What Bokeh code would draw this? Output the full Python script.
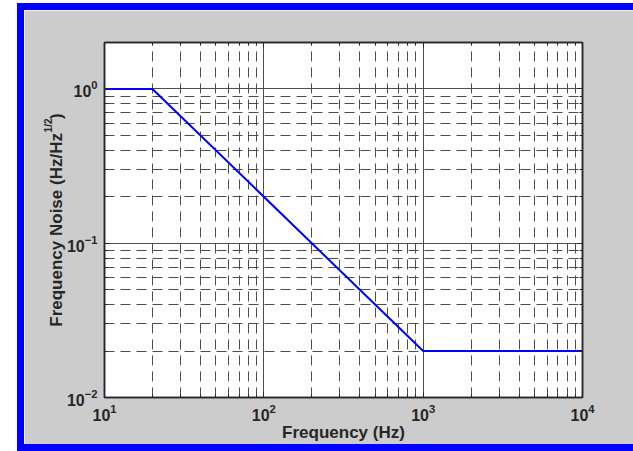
import math
from bokeh.plotting import figure
from bokeh.models import LogAxis, FixedTicker, Range1d, Title, LogTickFormatter
from bokeh.embed import file_html
from bokeh.resources import INLINE

# ---- data ----
freq = [10, 20, 1000, 10000]
noise = [1.0, 1.0, 0.02, 0.02]
x_decades = [1, 2, 3, 4]
y_decades = [-2, -1, 0]
x_lim = (10, 10000)
y_lim = (0.01, 2.0)
x_title = "Frequency (Hz)"
y_title_main = "Frequency Noise (Hz/Hz\u00a0\u00a0\u00a0)"
y_title_sup = "1/2"

major_x = [10.0 ** k for k in x_decades]
minor_x = [m * 10.0 ** k for k in x_decades[:-1] for m in range(2, 10)]
major_y = [10.0 ** k for k in y_decades]
minor_y = [m * 10.0 ** k for k in y_decades[:-1] for m in range(2, 10)]

FONT = "Liberation Sans"
TXT = "#262626"
GRID = "#4d4d4d"
BLUE = "#0000ff"

shadow = ", ".join([
    f"-7px 0 0 0 {BLUE}", f"0 -7px 0 0 {BLUE}", f"0 7px 0 0 {BLUE}",
    f"-7px -7px 0 0 {BLUE}", f"-7px 7px 0 0 {BLUE}",
])

p = figure(
    x_axis_type="log", y_axis_type="log",
    x_range=Range1d(*x_lim), y_range=Range1d(*y_lim),
    frame_width=478, frame_height=355,
    min_border_left=80, min_border_right=51,
    min_border_top=32, min_border_bottom=47,
    output_backend="svg", toolbar_location=None,
    border_fill_color="#cccccc", background_fill_color="white",
    outline_line_color=TXT, outline_line_width=1.5,
    margin=(10, 0, 0, 24),
    styles={"box-shadow": shadow},
)

xt = FixedTicker(ticks=major_x, minor_ticks=minor_x)
yt = FixedTicker(ticks=major_y, minor_ticks=minor_y)

top_ax = LogAxis()
right_ax = LogAxis()
p.add_layout(top_ax, "above")
p.add_layout(right_ax, "right")

for ax in p.xaxis:
    ax.ticker = xt
for ax in p.yaxis:
    ax.ticker = yt
for ax in list(p.xaxis) + list(p.yaxis):
    ax.major_tick_in = 5
    ax.major_tick_out = 0
    ax.minor_tick_in = 3
    ax.minor_tick_out = 0
    ax.major_tick_line_color = TXT
    ax.minor_tick_line_color = TXT
    ax.axis_line_color = TXT
    ax.axis_line_width = 1.5
    ax.formatter = LogTickFormatter()
    ax.major_label_text_font = FONT
    ax.major_label_text_font_style = "bold"
    ax.major_label_text_font_size = "16px"
    ax.major_label_text_color = TXT
    ax.axis_label_text_font = FONT
    ax.axis_label_text_font_style = "bold"
    ax.axis_label_text_font_size = "17px"
    ax.axis_label_text_color = TXT

for ax in [top_ax, right_ax]:
    ax.major_label_text_font_size = "6px"
    ax.major_label_text_alpha = 0

bx = p.below[0]
bx.major_label_standoff = 6
bx.axis_label = x_title
bx.axis_label_standoff = -1

ly = p.left[0]
ly.major_label_standoff = 7
ly.axis_label = y_title_main
ly.axis_label_standoff = -2

p.add_layout(Title(text=y_title_sup, align="right", offset=76, standoff=-20,
                   text_font=FONT, text_font_style="bold",
                   text_font_size="10px", text_color=TXT), "left")

p.xgrid.ticker = xt
p.ygrid.ticker = yt
for g in [p.xgrid[0], p.ygrid[0]]:
    g.grid_line_color = GRID
    g.grid_line_width = 1
    g.minor_grid_line_color = GRID
    g.minor_grid_line_width = 1
    g.minor_grid_line_dash = "10 6"

p.line(freq, noise, line_color=BLUE, line_width=2)

open("out.html", "w").write(file_html(p, INLINE))
